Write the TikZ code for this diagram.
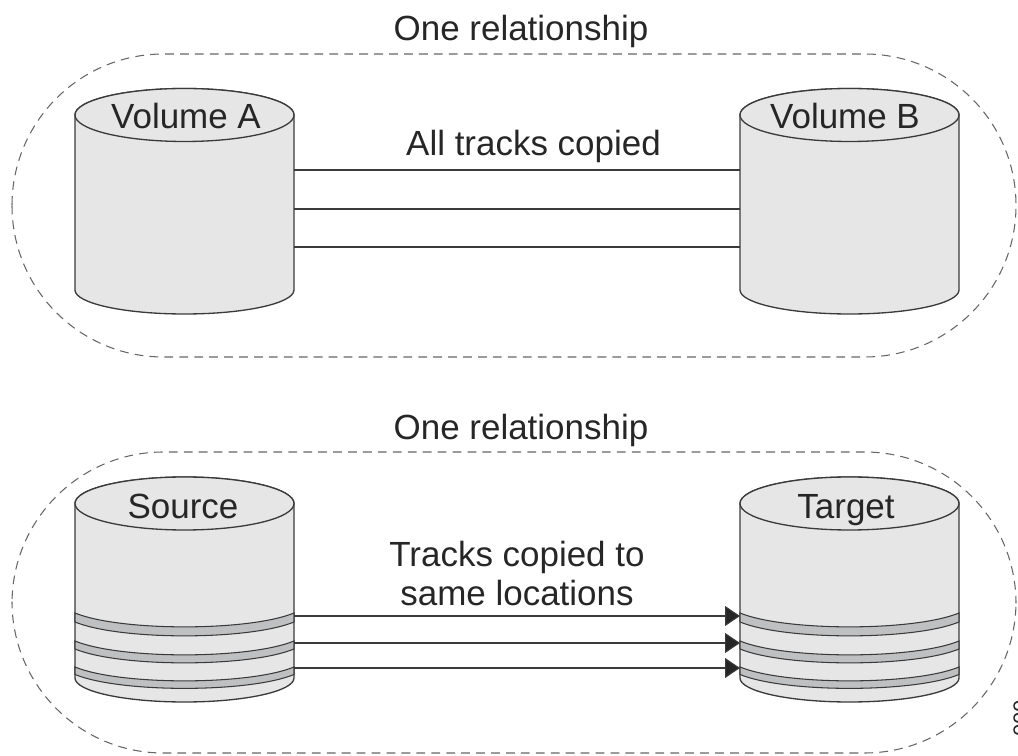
\documentclass[tikz,border=0pt]{standalone}
\usepackage{fontspec}
\setmainfont{Liberation Sans}
\usetikzlibrary{arrows.meta}
\definecolor{diskgray}{HTML}{E6E6E6}
\definecolor{stripegray}{HTML}{BFC0C2}
\definecolor{inkgray}{HTML}{3A3A3A}
\tikzset{
  disk/.style={draw=inkgray,fill=diskgray,line width=0.75pt},
  stripe/.style={draw=inkgray,fill=stripegray,line width=0.6pt},
  link/.style={draw=inkgray,line width=0.6pt},
  copyarrow/.style={link,-{Triangle[length=0.3cm,width=0.4cm,fill=black!85]}},
  group/.style={draw=black!60,dash pattern=on 5pt off 3.5pt,line width=0.6pt,rounded corners=3.03cm},
  label/.style={font=\fontsize{19.9}{22.2}\selectfont,text=black!85,inner sep=0pt,align=center,anchor=base}
}
\newcommand{\drawdisk}[3]{
\draw [disk] (#1,#2) -- (#1,#3) arc [start angle=180,end angle=0,x radius=109.5,y radius=24] -- ++(0,{#2-#3}) arc [start angle=0,end angle=-180,x radius=109.5,y radius=26.5] -- cycle;
\draw [disk] (#1,#2) arc [start angle=180,end angle=540,x radius=109.5,y radius=26.5];
}
\newcommand{\drawstripe}[3]{
\draw [stripe] (#1,#2) .. controls ({#1+45},{#2+18.5}) and ({#1+174},{#2+18.5}) .. ({#1+219},#2) -- ({#1+219},#3) .. controls ({#1+174},{#3+18.5}) and ({#1+45},{#3+18.5}) .. (#1,#3) -- cycle;
}
\begin{document}
\begin{tikzpicture}[x=0.02cm,y=-0.02cm]
\useasboundingbox (0,0) rectangle (1018,756);
\draw [group] (12,54) rectangle (1016,357);
\draw [group] (12,452) rectangle (1016,753);
\drawdisk{75}{115}{290}
\drawdisk{740}{115}{290}
\drawdisk{75}{503.5}{678}
\drawdisk{740}{503.5}{678}
\drawstripe{75}{613}{622}
\drawstripe{75}{641}{649}
\drawstripe{75}{667}{674.5}
\drawstripe{740}{613}{622}
\drawstripe{740}{641}{649}
\drawstripe{740}{667}{674.5}
\node [label] (topTitle) at (521,41) {One relationship};
\node [label] (bottomTitle) at (521,439.5) {One relationship};
\node [label] (volA) at (186,129) {Volume A};
\node [label] (volB) at (845,129) {Volume B};
\node [label] (source) at (183,519) {Source};
\node [label] (target) at (846,519) {Target};
\node [label] (allTracks) at (533.5,156) {All tracks copied};
\node [label] (sameTracks) at (517,606) {Tracks copied to\\same locations};
\node [font=\fontsize{12.6}{14}\selectfont,text=black!85,inner sep=0pt,rotate=90,anchor=north west] (figureId) at (1013,737) {000};
\coordinate (volAone) at (294,170);
\coordinate (volAtwo) at (294,209);
\coordinate (volAthree) at (294,247);
\coordinate (volBone) at (740,170);
\coordinate (volBtwo) at (740,209);
\coordinate (volBthree) at (740,247);
\coordinate (sourceOne) at (294,616);
\coordinate (sourceTwo) at (294,643);
\coordinate (sourceThree) at (294,668);
\coordinate (targetOne) at (740,616);
\coordinate (targetTwo) at (740,643);
\coordinate (targetThree) at (740,668);
\draw [link] (volAone) -- (volBone);
\draw [link] (volAtwo) -- (volBtwo);
\draw [link] (volAthree) -- (volBthree);
\draw [copyarrow] (sourceOne) -- (targetOne);
\draw [copyarrow] (sourceTwo) -- (targetTwo);
\draw [copyarrow] (sourceThree) -- (targetThree);
\end{tikzpicture}
\end{document}
